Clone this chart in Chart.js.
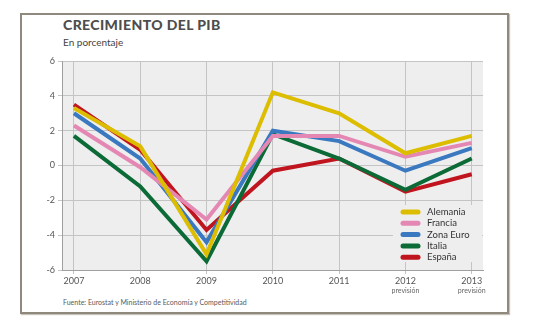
<!DOCTYPE html>
<html lang="es">
<head>
  <meta charset="UTF-8">
  <title>Crecimiento del PIB</title>
  <script src="https://cdn.jsdelivr.net/npm/chart.js"></script>
  <style>
    body { margin: 0; background: #fff; font-family: Lato, "Open Sans", sans-serif; }
    #wrap { position: relative; width: 539px; height: 331px; }
    #frame { position: absolute; left: 20px; top: 13px; width: 485px; height: 297px;
             border: 2px solid #8f887c; box-shadow: 1px 1px 1px #c8c2b8; }
    .txt { position: absolute; left: 63px; color: #4a4a4a; white-space: nowrap; }
    #title { top: 16px; font-size: 14px; font-weight: 900; color: #4d4d4d; letter-spacing: 0.4px; }
    #sub { top: 36px; font-size: 10px; color: #444; }
    #src { top: 298px; font-size: 7px; color: #5a5a5a; }
    canvas { position: absolute; left: 0; top: 0; }
  </style>
</head>
<body>
<div id="wrap">
  <div id="frame"></div>
  <div class="txt" id="title">CRECIMIENTO DEL PIB</div>
  <div class="txt" id="sub">En porcentaje</div>
  <div class="txt" id="src">Fuente: Eurostat y Ministerio de Economía y Competitividad</div>
  <canvas id="pib" width="539" height="331"></canvas>
</div>
<script>
  // datos
  const years = [2007, 2008, 2009, 2010, 2011, 2012, 2013];
  const forecastYears = [2012, 2013];
  const alemania  = [3.3, 1.1, -5.1, 4.2, 3.0, 0.7, 1.7];
  const francia   = [2.3, -0.1, -3.1, 1.7, 1.7, 0.5, 1.3];
  const zonaEuro  = [3.0, 0.4, -4.4, 2.0, 1.4, -0.3, 1.0];
  const italia    = [1.7, -1.2, -5.5, 1.8, 0.4, -1.4, 0.4];
  const espana    = [3.5, 0.9, -3.7, -0.3, 0.4, -1.5, -0.5];
  const yTicks    = [-6, -4, -2, 0, 2, 4, 6];

  const series = [
    { label: 'Alemania',  data: alemania, color: '#dcbd00' },
    { label: 'Francia',   data: francia,  color: '#e487b3' },
    { label: 'Zona Euro', data: zonaEuro, color: '#3a78c0' },
    { label: 'Italia',    data: italia,   color: '#0b6a36' },
    { label: 'España',    data: espana,   color: '#c0141e' }
  ];

  const plotBg = '#eeeeee';

  const bgPlugin = {
    id: 'plotBg',
    beforeDraw(chart) {
      const a = chart.chartArea, c = chart.ctx;
      c.save();
      c.fillStyle = plotBg;
      c.fillRect(a.left, a.top, a.right - a.left, a.bottom - a.top);
      c.restore();
    }
  };

  // leyenda dentro del area, tapa la reticula
  const legendPlugin = {
    id: 'innerLegend',
    beforeDatasetsDraw(chart) {
      const a = chart.chartArea, c = chart.ctx;
      const x0 = a.right - 90, y0 = a.bottom - 65;
      c.save();
      c.fillStyle = plotBg;
      c.fillRect(x0, y0, 89, 57);
      c.font = '9.5px Lato, "Open Sans", sans-serif';
      c.textBaseline = 'middle';
      chart.data.datasets.forEach((ds, i) => {
        const y = y0 + 7 + i * 11.3;
        c.strokeStyle = ds.borderColor;
        c.lineWidth = 5;
        c.lineCap = 'round';
        c.beginPath();
        c.moveTo(x0 + 10, y);
        c.lineTo(x0 + 25, y);
        c.stroke();
        c.fillStyle = '#333';
        c.fillText(ds.label, x0 + 34, y);
      });
      c.restore();
    }
  };

  const forecastPlugin = {
    id: 'forecast',
    afterDraw(chart) {
      const s = chart.scales.x, c = chart.ctx;
      c.save();
      c.font = '7px Lato, "Open Sans", sans-serif';
      c.fillStyle = '#666';
      c.textAlign = 'center';
      c.textBaseline = 'middle';
      forecastYears.forEach(yr => c.fillText('previsión', s.getPixelForValue(yr), chart.chartArea.bottom + 21));
      c.restore();
    }
  };

  const ctx = document.getElementById('pib').getContext('2d');
  new Chart(ctx, {
    type: 'line',
    data: {
      datasets: series.map(s => ({
        label: s.label,
        data: years.map((yr, i) => ({ x: yr, y: s.data[i] })),
        borderColor: s.color,
        backgroundColor: s.color,
        borderWidth: 4,
        pointRadius: 0,
        tension: 0,
        borderJoinStyle: 'miter'
      }))
    },
    options: {
      responsive: false,
      animation: false,
      layout: { padding: { top: 61, right: 56, left: 0, bottom: 0 } },
      plugins: { legend: { display: false }, tooltip: { enabled: false } },
      scales: {
        x: {
          type: 'linear',
          min: 2006.82,
          max: 2013.17,
          afterBuildTicks(scale) { scale.ticks = years.map(v => ({ value: v })); },
          afterFit(scale) { scale.height = 61; },
          ticks: {
            callback: v => String(v),
            font: { size: 9, family: 'Lato, "Open Sans", sans-serif' },
            color: '#555',
            padding: 2,
            maxRotation: 0
          },
          grid: { color: '#c4c4c4', tickLength: 4 },
          border: { color: '#a0a0a0' }
        },
        y: {
          min: -6,
          max: 6,
          afterBuildTicks(scale) { scale.ticks = yTicks.map(v => ({ value: v })); },
          afterFit(scale) { scale.width = 62; },
          ticks: {
            font: { size: 9, family: 'Lato, "Open Sans", sans-serif' },
            color: '#555',
            padding: 3
          },
          grid: { color: '#c4c4c4', tickLength: 4 },
          border: { color: '#a0a0a0' }
        }
      }
    },
    plugins: [bgPlugin, legendPlugin, forecastPlugin]
  });
</script>
</body>
</html>
